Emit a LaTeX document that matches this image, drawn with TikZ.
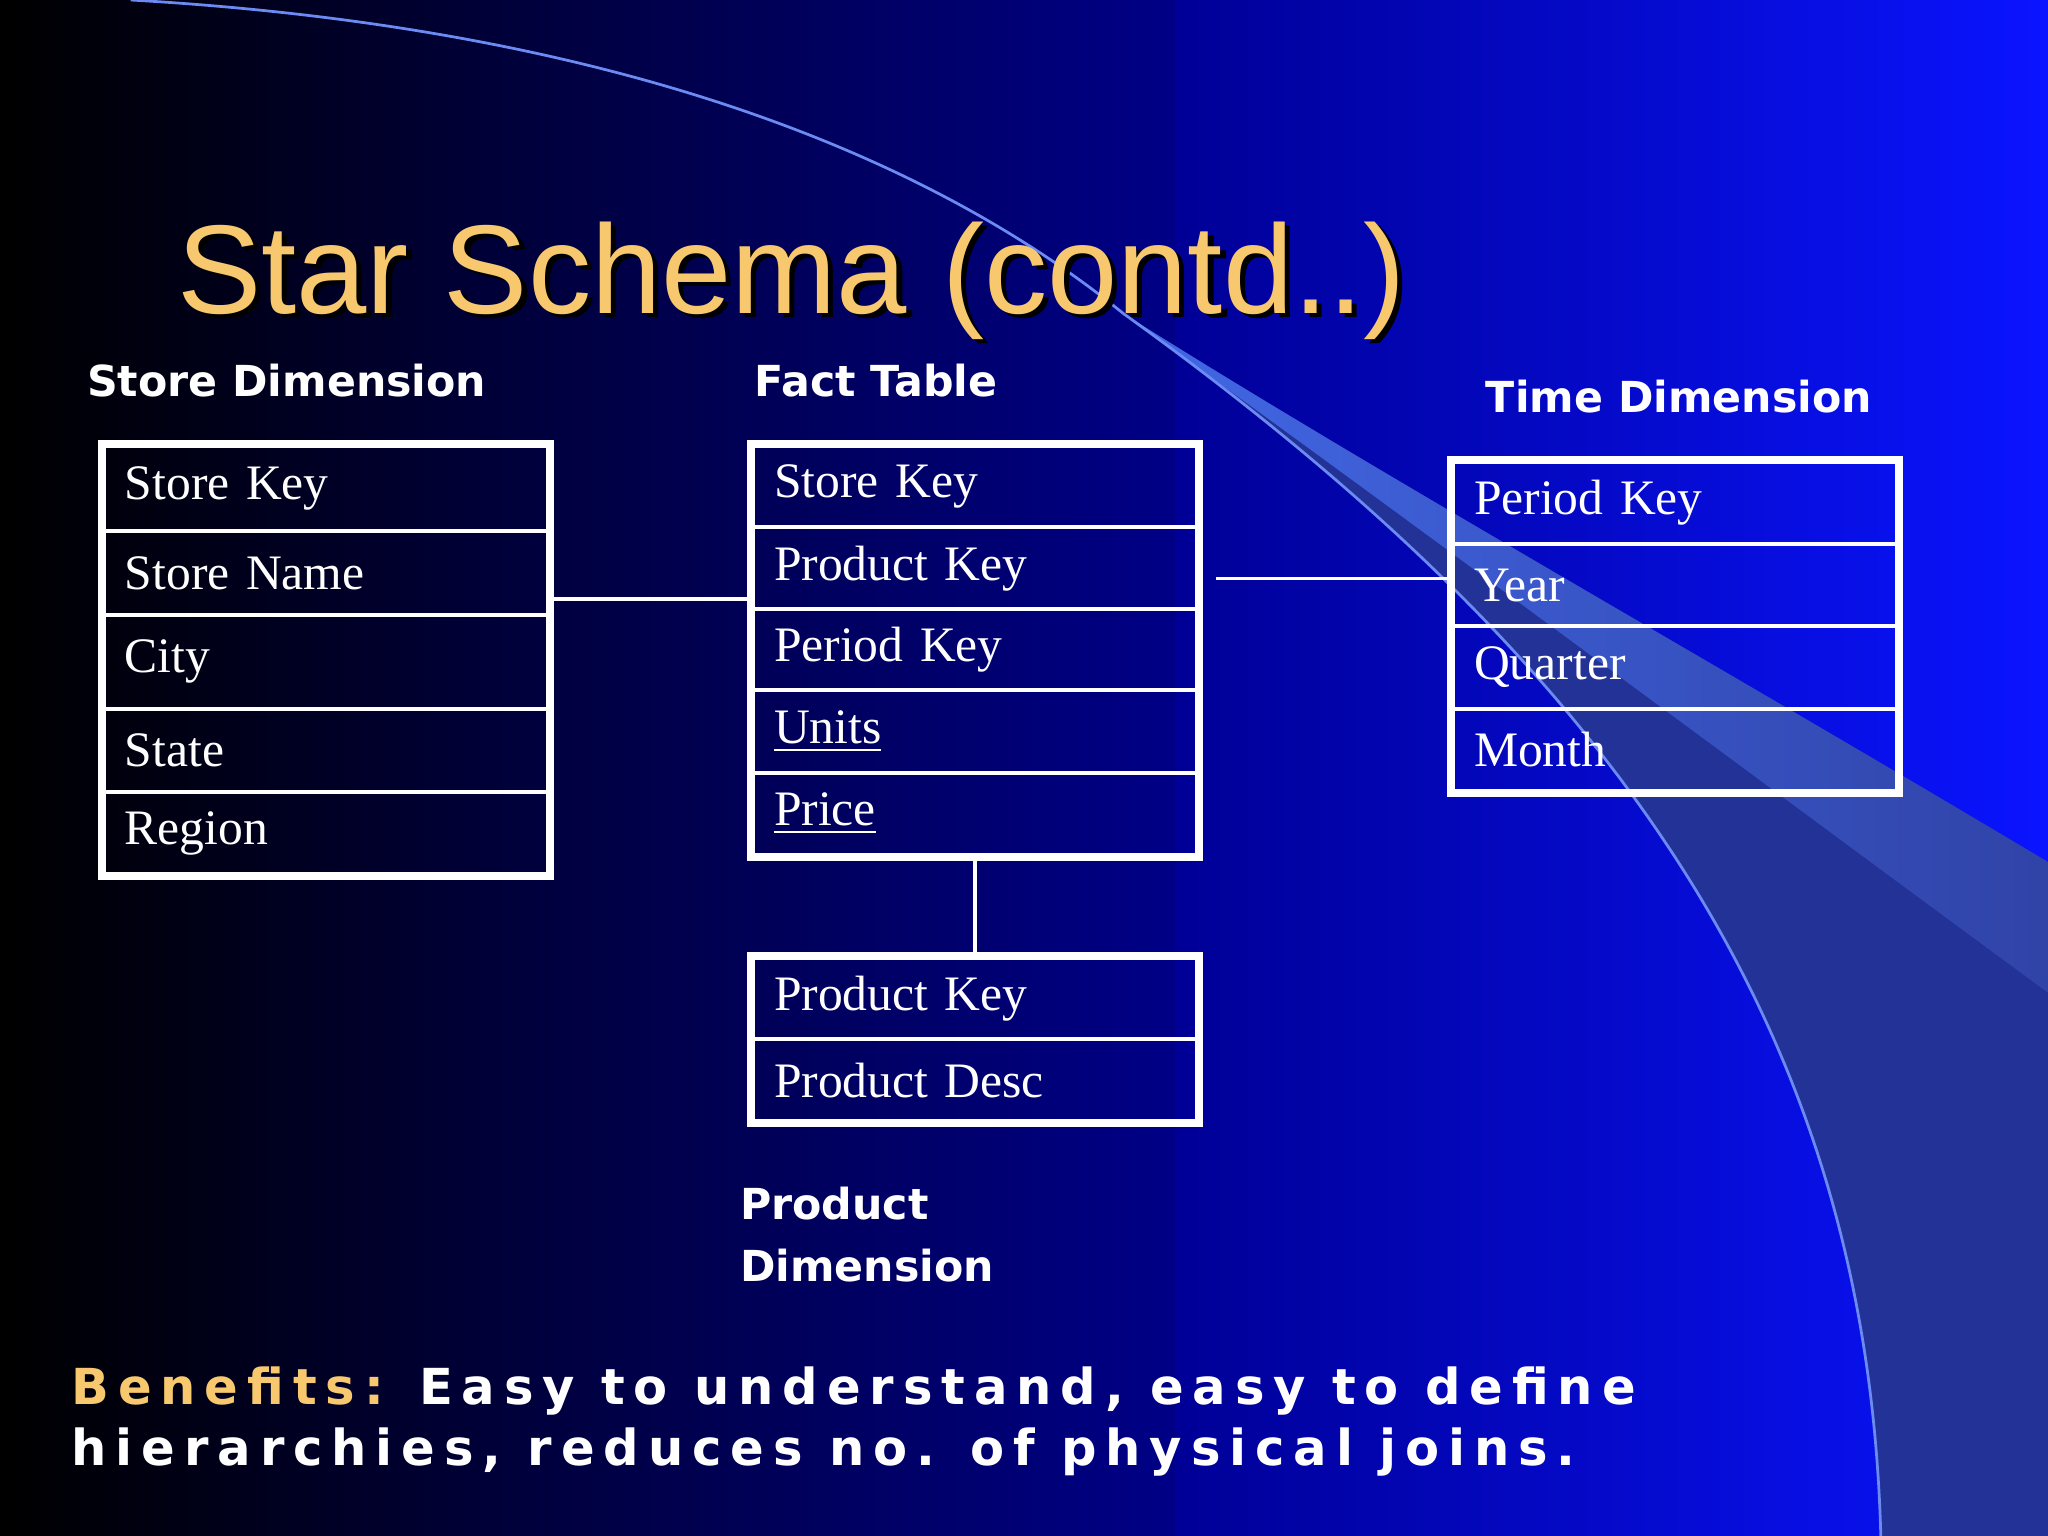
\documentclass[tikz,border=0pt]{standalone}
\usepackage{fontspec}
\setmainfont{Liberation Serif}
\newfontfamily\titlefont{Liberation Sans}
\newfontfamily\headfont{DejaVu Sans}[BoldFont={DejaVu Sans Bold}]
\newfontfamily\spacedfont{DejaVu Sans}[BoldFont={DejaVu Sans Bold},LetterSpace=18]
\definecolor{gold}{RGB}{248,200,110}
\definecolor{bandblue}{RGB}{70,110,240}
\definecolor{slate}{RGB}{35,50,150}
\tikzset{
  row/.style={draw=white,line width=0.9pt,minimum width=3.4cm,text width=3.4cm,align=left,anchor=north west,inner sep=0pt,font=\fontsize{10.8}{12}\selectfont,text=white},
  frame/.style={draw=white,line width=1.6pt},
  head/.style={font=\headfont\bfseries\fontsize{9.3}{13.5}\selectfont,text=white,anchor=west,align=left,inner sep=0pt},
  link/.style={draw=white,line width=0.8pt}
}
\begin{document}
\begin{tikzpicture}[x=0.01cm,y=-0.01cm]
\useasboundingbox (0,0) rectangle (1568,1176);
\shade[left color=black,right color={rgb,255:red,0;green,0;blue,235}] (0,0) rectangle (1568,1176);
\shade[left color={rgb,255:red,0;green,0;blue,150},right color={rgb,255:red,10;green,20;blue,255}] (900,0) rectangle (1568,1176);
\fill[slate] (860,240) .. controls (1250,520) and (1430,800) .. (1440,1176) -- (1568,1176) -- (1568,660) .. controls (1300,500) and (1050,360) .. (860,240) -- cycle;
\shade[left color=bandblue,right color={rgb,255:red,50;green,70;blue,170},opacity=0.9] (860,240) .. controls (1150,450) and (1350,600) .. (1568,760) -- (1568,660) .. controls (1300,500) and (1050,360) .. (860,240) -- cycle;
\draw[bandblue!80!white,line width=0.6pt] (100,0) .. controls (450,20) and (700,110) .. (860,240);
\draw[bandblue!80!white,line width=0.6pt] (860,240) .. controls (1250,520) and (1430,800) .. (1440,1176);
% title
\node[anchor=base west,inner sep=0pt,text=black,font=\titlefont\fontsize{27.5}{32}\selectfont] at (139,243) {Star Schema (contd..)};
\node[anchor=base west,inner sep=0pt,text=gold,font=\titlefont\fontsize{27.5}{32}\selectfont] (title) at (135,240) {Star Schema (contd..)};
% headings
\node[head] (hs) at (66,291) {Store Dimension};
\node[head] (hf) at (577,291) {Fact Table};
\node[head] (ht) at (1137,304) {Time Dimension};
\node[head] (hp) at (566,945) {Product\\Dimension};
% store table
\foreach \n/\t/\a/\b in {s1/Store Key/340/405,s2/Store Name/405/469,s3/City/469/541,s4/State/541/605,s5/Region/605/668}
  \node[row,minimum height={(\b-\a)*0.01cm}] (\n) at (78,\a) {\hspace*{0.16cm}\t};
\draw[frame] (s1.north west) rectangle (s5.south east);
% fact table
\foreach \n/\t/\a/\b in {f1/Store Key/340/402,f2/Product Key/402/465,f3/Period Key/465/527,f4/\underline{Units}/527/590,f5/\underline{Price}/590/653}
  \node[row,minimum height={(\b-\a)*0.01cm}] (\n) at (575,\a) {\hspace*{0.16cm}\t};
\draw[frame] (f1.north west) rectangle (f5.south east);
% product table
\foreach \n/\t/\a/\b in {p1/Product Key/732/794,p2/Product Desc/794/857}
  \node[row,minimum height={(\b-\a)*0.01cm}] (\n) at (575,\a) {\hspace*{0.16cm}\t};
\draw[frame] (p1.north west) rectangle (p2.south east);
% time table
\foreach \n/\t/\a/\b in {t1/Period Key/352/415,t2/Year/415/478,t3/Quarter/478/541,t4/Month/541/604}
  \node[row,minimum height={(\b-\a)*0.01cm}] (\n) at (1111,\a) {\hspace*{0.16cm}\t};
\draw[frame] (t1.north west) rectangle (t4.south east);
% connectors
\draw[link] ([yshift=-0.2cm]s2.east) -- ([yshift=-0.2cm]s2.east -| f2.west);
\coordinate (fe) at ([xshift=0.13cm]f2.east |- t2.north);
\draw[link] ([yshift=-0.28cm]fe) -- ([yshift=-0.28cm]t2.north west);
\draw[link] (f5.south) -- (p1.north);
% benefits
\node[anchor=north west,inner sep=0pt,align=left,text=white,font=\spacedfont\bfseries\fontsize{10.8}{13.2}\selectfont] (ben) at (54,1046)
  {\textcolor{gold}{Benefits:} Easy to understand, easy to define\\hierarchies, reduces no. of physical joins.};
\end{tikzpicture}
\end{document}
